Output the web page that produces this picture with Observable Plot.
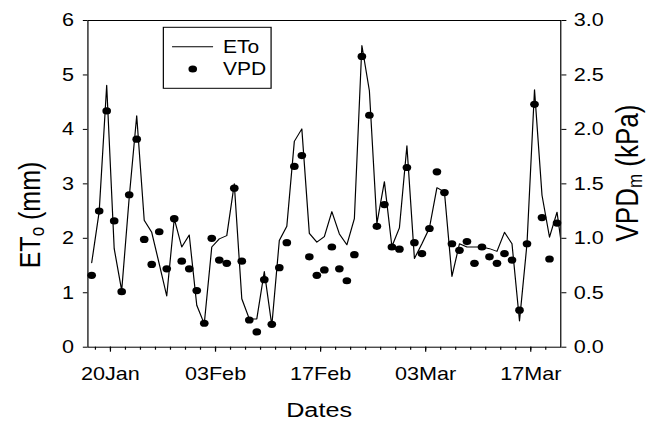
<!DOCTYPE html>
<html><head><meta charset="utf-8">
<script src="https://cdn.jsdelivr.net/npm/d3@7"></script>
<script src="https://cdn.jsdelivr.net/npm/@observablehq/plot@0.6"></script>
<style>html,body{margin:0;padding:0;background:#fff;overflow:hidden;}</style>
</head><body><div id="chart"></div>
<script>
// ---- data (daily values, first day 17 Jan) ----
const startDate = "2023-01-17";
const etoValues = [1.55,2.49,4.81,1.81,1.04,2.75,4.25,2.33,2.11,1.53,0.94,2.36,1.84,2.06,0.77,0.43,
  1.84,1.99,2.05,3.00,0.89,0.52,0.52,1.39,0.40,1.96,2.22,3.78,4.01,2.09,1.93,2.03,2.49,2.08,1.88,2.36,
  5.54,4.71,2.27,3.04,1.85,2.19,3.70,1.63,1.90,2.19,2.93,2.85,1.30,1.90,1.84,1.84,1.84,1.81,1.76,2.11,
  1.90,0.48,1.90,4.73,2.79,2.02,2.48,1.48];
const vpdValues = [0.66,1.25,2.17,1.16,0.51,1.40,1.91,0.99,0.76,1.06,0.72,1.18,0.79,0.72,0.52,0.22,
  1.00,0.80,0.77,1.46,0.79,0.25,0.14,0.62,0.21,0.73,0.96,1.66,1.76,0.83,0.66,0.71,0.92,0.72,0.61,0.85,
  2.67,2.13,1.11,1.31,0.92,0.90,1.65,0.96,0.86,1.09,1.61,1.42,0.95,0.89,0.97,0.77,0.92,0.83,0.77,0.86,
  0.80,0.34,0.95,2.23,1.19,0.81,1.14];
const xDomain = ["2023-01-17", "2023-03-21"];
const majorTickDates = ["2023-01-20","2023-02-03","2023-02-17","2023-03-03","2023-03-17"];
const etoTicks = [0,1,2,3,4,5,6];
const vpdTicks = [0.0,0.5,1.0,1.5,2.0,2.5,3.0];

// ---- build ----
const S = 1.2;               // horizontal stretch of the original picture
const W = 539, H = 426;
const vx = x => x / S;       // page px -> viewBox units
const t0 = new Date(startDate + "T12:00:00Z");
const rows = etoValues.map((e, i) => ({date: d3.utcDay.offset(t0, i), eto: e, vpd: vpdValues[i]}));
const dotRows = rows.filter(d => d.vpd != null);
const major = majorTickDates.map(s => new Date(s + "T00:00:00Z"));
const minor = d3.utcDay.range(new Date("2023-01-18T00:00:00Z"), new Date(xDomain[1] + "T00:00:00Z"), 2);
const fmt = d3.utcFormat("%d%b");

const plot = Plot.plot({
  width: W, height: H,
  marginLeft: vx(87.3), marginRight: W - vx(560), marginTop: 20, marginBottom: H - 346.7,
  style: {fontFamily: "'Liberation Sans', Arial, sans-serif", fontSize: "18px", color: "#000", background: "#fff"},
  x: {type: "utc", domain: xDomain.map(s => new Date(s + "T00:00:00Z"))},
  y: {domain: [0, 6]},
  marks: [
    Plot.frame({stroke: "#000", strokeWidth: 1}),
    Plot.axisY(etoTicks, {anchor: "left", tickSize: vx(4.5), tickPadding: vx(9.5), tickFormat: d => String(d), label: null, fontSize: 18}),
    Plot.axisY(vpdTicks.map(v => v * 2), {anchor: "right", tickSize: vx(5), tickPadding: vx(8), tickFormat: d => (d / 2).toFixed(1), label: null, fontSize: 18}),
    Plot.axisX(minor, {anchor: "bottom", tickSize: 3, fill: "none", label: null}),
    Plot.axisX(major, {anchor: "bottom", tickSize: 5, tickPadding: 15, tickFormat: fmt, label: null, fontSize: 18}),
    Plot.line(rows, {x: "date", y: "eto", stroke: "#000", strokeWidth: 1, clip: true}),
    Plot.dot(dotRows, {x: "date", y: d => d.vpd * 2, r: 3.6, fill: "#000", stroke: "none"})
  ]
});

plot.setAttribute("width", 647);
plot.setAttribute("height", H);
plot.setAttribute("preserveAspectRatio", "none");
plot.style.width = "647px";
plot.style.height = H + "px";
plot.style.maxWidth = "none";

const svg = d3.select(plot);
const font = "'Liberation Sans', Arial, sans-serif";

// axis titles
const yl = svg.append("text")
  .attr("transform", `translate(${vx(29)},215) rotate(-90)`)
  .attr("text-anchor", "middle").attr("dominant-baseline", "central")
  .attr("font-family", font).attr("font-size", 25).attr("fill", "#000");
yl.append("tspan").text("ET");
yl.append("tspan").text("o").attr("font-size", 17).attr("dy", 6);
yl.append("tspan").text(" (mm)").attr("dy", -6);

const yr = svg.append("text")
  .attr("transform", `translate(${vx(627)},173) rotate(-90)`)
  .attr("text-anchor", "middle").attr("dominant-baseline", "central")
  .attr("font-family", font).attr("font-size", 26).attr("fill", "#000");
yr.append("tspan").text("VPD");
yr.append("tspan").text("m").attr("font-size", 17).attr("dy", 6);
yr.append("tspan").text(" (kPa)").attr("dy", -6);

svg.append("text").text("Dates")
  .attr("x", vx(319)).attr("y", 410)
  .attr("text-anchor", "middle").attr("dominant-baseline", "central")
  .attr("font-family", font).attr("font-size", 21).attr("fill", "#000");

// legend
const lg = svg.append("g").attr("text-anchor", "start");
lg.append("rect").attr("x", vx(163.3)).attr("y", 27.3).attr("width", vx(271) - vx(163.3)).attr("height", 61)
  .attr("fill", "#fff").attr("stroke", "#000").attr("stroke-width", 1);
lg.append("line").attr("x1", vx(172)).attr("x2", vx(213)).attr("y1", 46.7).attr("y2", 46.7)
  .attr("stroke", "#000").attr("stroke-width", 1);
lg.append("circle").attr("cx", vx(192.7)).attr("cy", 69).attr("r", 3.6).attr("fill", "#000");
lg.append("text").text("ETo").attr("x", vx(223)).attr("y", 47).attr("dominant-baseline", "central")
  .attr("text-anchor", "start")
  .attr("font-family", font).attr("font-size", 17.5).attr("fill", "#000");
lg.append("text").text("VPD").attr("x", vx(223)).attr("y", 69).attr("dominant-baseline", "central")
  .attr("text-anchor", "start")
  .attr("font-family", font).attr("font-size", 17.5).attr("fill", "#000");

document.getElementById("chart").appendChild(plot);
</script>
</body></html>
